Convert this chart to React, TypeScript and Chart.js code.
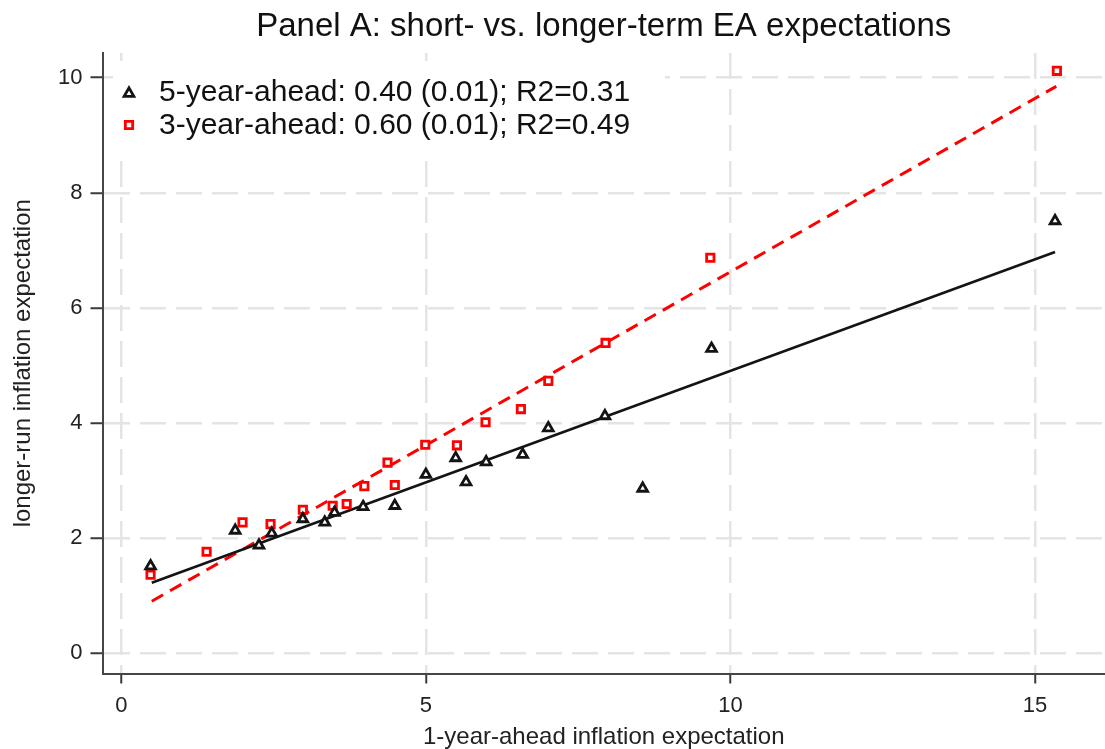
import React, { useEffect, useRef } from "react";
import { Chart, registerables } from "chart.js";

Chart.register(...registerables);

const FONT = '"Liberation Sans", Arial, Helvetica, sans-serif';

const titleText = "Panel A: short- vs. longer-term EA expectations";
const xAxisTitle = "1-year-ahead inflation expectation";
const yAxisTitle = "longer-run inflation expectation";
const legendLabels = [
  "5-year-ahead: 0.40 (0.01); R2=0.31",
  "3-year-ahead: 0.60 (0.01); R2=0.49",
];

const xTickValues = [0, 5, 10, 15];
const yTickValues = [0, 2, 4, 6, 8, 10];

// 5-year-ahead (black triangles)
const x5 = [0.48, 1.87, 2.26, 2.47, 2.98, 3.34, 3.5, 3.97, 4.49, 5.0, 5.49, 5.66, 5.99, 6.59, 7.01, 7.94, 8.56, 9.69, 15.33];
const y5 = [1.51, 2.13, 1.87, 2.08, 2.33, 2.27, 2.44, 2.54, 2.56, 3.1, 3.39, 2.97, 3.32, 3.45, 3.91, 4.12, 2.86, 5.29, 7.51];

// 3-year-ahead (red squares)
const x3 = [0.48, 1.4, 1.99, 2.45, 2.98, 3.47, 3.7, 3.99, 4.37, 4.49, 4.99, 5.51, 5.98, 6.56, 7.01, 7.95, 9.67, 15.36];
const y3 = [1.36, 1.76, 2.27, 2.24, 2.49, 2.56, 2.59, 2.9, 3.31, 2.92, 3.62, 3.61, 4.01, 4.24, 4.73, 5.39, 6.87, 10.12];

// fitted lines (end points)
const fit5X = [0.5, 15.33];
const fit5Y = [1.22, 6.97];
const fit3X = [0.5, 15.35];
const fit3Y = [0.9, 9.85];

const BLACK = "#141414";
const RED = "#ff0000";
const TRI_R = 5.6;
const TRI_W = 2.8;
const SQ_R = 5.2;
const SQ_W = 2.8;

function drawTriangle(ctx: CanvasRenderingContext2D, x: number, y: number, r: number) {
  ctx.beginPath();
  for (let k = 0; k < 3; k++) {
    const a = (k * 2 * Math.PI) / 3;
    const px = x + Math.sin(a) * r;
    const py = y - Math.cos(a) * r;
    if (k === 0) ctx.moveTo(px, py);
    else ctx.lineTo(px, py);
  }
  ctx.closePath();
}

const insideLegend = {
  id: "insideLegend",
  beforeDatasetsDraw(chart: any) {
    const { ctx, chartArea } = chart;
    const L = chartArea.left;
    const T = chartArea.top;
    ctx.save();
    ctx.fillStyle = "#ffffff";
    ctx.fillRect(L + 10.5, T + 8, 552, 94);
    // markers
    ctx.lineWidth = TRI_W;
    ctx.strokeStyle = BLACK;
    ctx.fillStyle = "#ffffff";
    drawTriangle(ctx, L + 26.5, T + 40.5, TRI_R);
    ctx.fill();
    ctx.stroke();
    ctx.strokeStyle = RED;
    ctx.lineWidth = SQ_W;
    const s = SQ_R * Math.SQRT1_2;
    ctx.beginPath();
    ctx.rect(L + 26.5 - s, T + 72 - s, 2 * s, 2 * s);
    ctx.fill();
    ctx.stroke();
    // text
    ctx.fillStyle = "#111111";
    ctx.font = `30px ${FONT}`;
    ctx.textBaseline = "middle";
    ctx.textAlign = "left";
    ctx.fillText(legendLabels[0], L + 56.5, T + 40);
    ctx.fillText(legendLabels[1], L + 56.5, T + 72.5);
    ctx.restore();
  },
};

export default function App() {
  const canvasRef = useRef<HTMLCanvasElement | null>(null);

  useEffect(() => {
    document.body.style.margin = "0";
    const canvas = canvasRef.current;
    if (!canvas) return;

    const gridOpts = (tickLength: number) => ({
      color: "#e4e4e4",
      lineWidth: 2.5,
      drawTicks: true,
      tickLength,
      tickColor: "#3a3a3a",
      tickWidth: 2,
      tickBorderDash: [],
    });

    const chart = new Chart(canvas, {
      type: "scatter",
      data: {
        datasets: [
          {
            label: legendLabels[0],
            data: x5.map((x, i) => ({ x, y: y5[i] })),
            pointStyle: "triangle",
            pointRadius: TRI_R,
            pointBorderColor: BLACK,
            pointBackgroundColor: "#ffffff",
            pointBorderWidth: TRI_W,
            order: 0,
          },
          {
            label: legendLabels[1],
            data: x3.map((x, i) => ({ x, y: y3[i] })),
            pointStyle: "rect",
            pointRadius: SQ_R,
            pointBorderColor: RED,
            pointBackgroundColor: "#ffffff",
            pointBorderWidth: SQ_W,
            order: 0,
          },
          {
            label: "5-year fit",
            data: fit5X.map((x, i) => ({ x, y: fit5Y[i] })),
            showLine: true,
            borderColor: BLACK,
            borderWidth: 2.6,
            pointRadius: 0,
            order: 1,
          },
          {
            label: "3-year fit",
            data: fit3X.map((x, i) => ({ x, y: fit3Y[i] })),
            showLine: true,
            borderColor: RED,
            borderWidth: 3,
            borderDash: [13, 8],
            pointRadius: 0,
            order: 1,
          },
        ],
      },
      options: {
        responsive: false,
        animation: false,
        devicePixelRatio: 1,
        layout: { padding: 0, autoPadding: false },
        plugins: {
          legend: { display: false },
          tooltip: { enabled: false },
          title: {
            display: true,
            fullSize: false,
            text: titleText,
            color: "#111111",
            font: { family: FONT, size: 33, weight: "normal", lineHeight: 1.2 },
            padding: { top: 7, bottom: 6.4 },
          },
        },
        scales: {
          x: {
            type: "linear",
            min: -0.309,
            max: 16.15,
            afterBuildTicks: (scale: any) => {
              scale.ticks = xTickValues.map((v) => ({ value: v }));
            },
            afterFit: (scale: any) => {
              scale.height = 75.5;
              scale.paddingLeft = 0;
              scale.paddingRight = 0;
            },
            ticks: {
              font: { family: FONT, size: 22 },
              color: "#222222",
              padding: 9,
              maxRotation: 0,
              autoSkip: false,
            },
            grid: gridOpts(10),
            border: { display: true, color: "#454545", width: 2, dash: [26, 10] },
            title: {
              display: true,
              text: xAxisTitle,
              color: "#222222",
              font: { family: FONT, size: 24, lineHeight: 1 },
              padding: { top: 0, bottom: 0 },
            },
          },
          y: {
            type: "linear",
            min: -0.357,
            max: 10.43,
            afterBuildTicks: (scale: any) => {
              scale.ticks = yTickValues.map((v) => ({ value: v }));
            },
            afterFit: (scale: any) => {
              scale.width = 102.5;
              scale.paddingTop = 0;
              scale.paddingBottom = 0;
            },
            ticks: {
              font: { family: FONT, size: 22 },
              color: "#222222",
              padding: 8,
              autoSkip: false,
            },
            grid: gridOpts(12),
            border: { display: true, color: "#454545", width: 2, dash: [26, 10] },
            title: {
              display: true,
              text: yAxisTitle,
              color: "#222222",
              font: { family: FONT, size: 24, lineHeight: 1 },
              padding: { top: 11, bottom: 0 },
            },
          },
        },
      },
      plugins: [insideLegend],
    } as any);

    return () => {
      chart.destroy();
    };
  }, []);

  return (
    <div style={{ width: 1105, height: 749, background: "#ffffff" }}>
      <canvas ref={canvasRef} width={1105} height={749} style={{ display: "block" }} />
    </div>
  );
}
